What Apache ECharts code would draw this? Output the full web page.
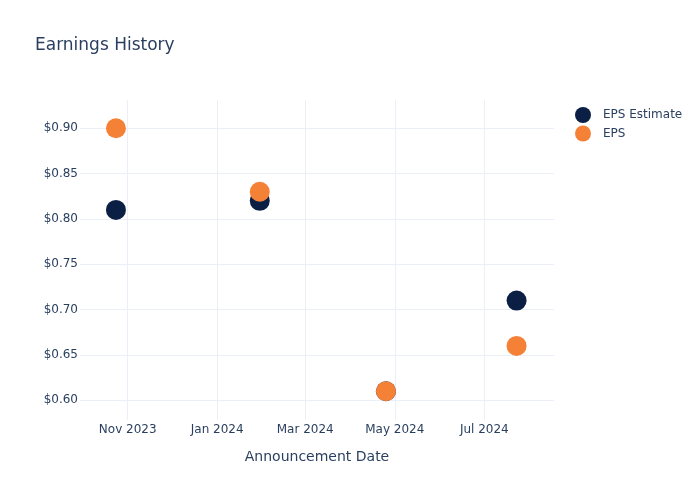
<!DOCTYPE html>
<html>
<head>
<meta charset="utf-8">
<script src="https://cdn.jsdelivr.net/npm/echarts@6/dist/echarts.min.js"></script>
<style>html,body{margin:0;padding:0;background:#fff}#c{width:700px;height:500px}</style>
</head>
<body>
<div id="c"></div>
<script>
// Data
const dates = ['2023-10-24', '2024-01-30', '2024-04-25', '2024-07-23'];
const epsEstimate = [0.81, 0.82, 0.61, 0.71];
const eps = [0.90, 0.83, 0.61, 0.66];
const xTickDates = ['2023-11-01', '2024-01-01', '2024-03-01', '2024-05-01', '2024-07-01'];
const yTicks = [0.60, 0.65, 0.70, 0.75, 0.80, 0.85, 0.90];
const xRange = ['2023-09-29T12:00:00Z', '2024-08-17T12:00:00Z'];
const yRange = [0.5783, 0.9312];

const toTs = s => Date.parse(s.length === 10 ? s + 'T00:00:00Z' : s);
const months = ['Jan','Feb','Mar','Apr','May','Jun','Jul','Aug','Sep','Oct','Nov','Dec'];
const txt = '#2a3f5f';
const font = 'DejaVu Sans';

const chart = echarts.init(document.getElementById('c'), null, {renderer: 'canvas'});
chart.setOption({
  animation: false,
  backgroundColor: '#fff',
  textStyle: {fontFamily: font},
  title: {
    text: 'Earnings History', left: 30, top: 32,
    textStyle: {fontFamily: font, fontSize: 17, fontWeight: 'normal', color: txt}
  },
  legend: {
    orient: 'vertical', left: 575, top: 107, padding: 0,
    itemWidth: 16, itemHeight: 16, itemGap: 2.5, icon: 'circle',
    textStyle: {fontFamily: font, fontSize: 12, color: txt, padding: [0, 0, 0, 7]},
    data: ['EPS Estimate', 'EPS']
  },
  grid: {left: 80, right: 146, top: 100, bottom: 80, containLabel: false},
  xAxis: {
    type: 'value',
    min: toTs(xRange[0]), max: toTs(xRange[1]),
    name: 'Announcement Date', nameLocation: 'middle', nameGap: 30,
    nameTextStyle: {fontFamily: font, fontSize: 14, color: txt},
    axisLine: {show: false},
    axisTick: {show: false, customValues: xTickDates.map(toTs)},
    axisLabel: {
      customValues: xTickDates.map(toTs),
      fontFamily: font, fontSize: 12, color: txt, margin: 4,
      formatter: v => { const d = new Date(v); return months[d.getUTCMonth()] + ' ' + d.getUTCFullYear(); }
    },
    splitLine: {show: true, lineStyle: {color: '#ebf0f8', width: 1}}
  },
  yAxis: {
    type: 'value',
    min: yRange[0], max: yRange[1],
    axisLine: {show: false},
    axisTick: {show: false, customValues: yTicks},
    axisLabel: {
      customValues: yTicks,
      fontFamily: font, fontSize: 12, color: txt, margin: 2,
      formatter: v => '$' + v.toFixed(2)
    },
    splitLine: {show: true, lineStyle: {color: '#ebf0f8', width: 1}}
  },
  series: [
    {
      name: 'EPS Estimate', type: 'scatter', symbol: 'circle', symbolSize: 20,
      itemStyle: {color: '#0b1f44', opacity: 1},
      data: dates.map((d, i) => [toTs(d), epsEstimate[i]])
    },
    {
      name: 'EPS', type: 'scatter', symbol: 'circle', symbolSize: 20,
      itemStyle: {color: '#f58137', opacity: 1},
      data: dates.map((d, i) => [toTs(d), eps[i]])
    }
  ]
});
</script>
</body>
</html>
